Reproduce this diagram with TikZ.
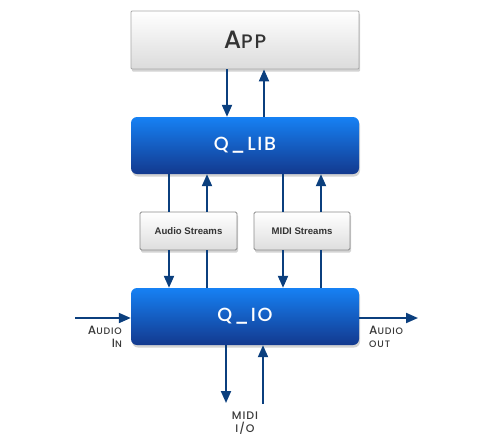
\documentclass[tikz,border=0pt]{standalone}
\usepackage{fontspec}
\setmainfont{Poppins Medium}
\newfontfamily\spfont[LetterSpace=9]{Poppins Medium}
\newfontfamily\hvfont{Liberation Sans}
\usetikzlibrary{shadows,arrows.meta}
\definecolor{navy}{HTML}{0B3F7E}
\definecolor{qtop}{HTML}{1681F4}
\definecolor{qbot}{HTML}{13398E}
\definecolor{gbord}{HTML}{A8A8A8}
\definecolor{sbord}{HTML}{8A8A8A}
\definecolor{dtext}{HTML}{333333}
\definecolor{ltext}{HTML}{3A3A3A}
\newcommand{\smc}[1]{{\fontsize{9.4}{9}\selectfont #1}}
\begin{document}
\begin{tikzpicture}[x=1pt,y=-1pt,
  shd/.style={drop shadow={opacity=0.35,shadow xshift=1pt,shadow yshift=-2.5pt}},
  appbox/.style={draw=gbord,line width=0.8pt,top color=white,bottom color=black!14,
    minimum width=228pt,minimum height=58pt,rounded corners=1pt,shd,
    text=dtext,font=\spfont\fontsize{25}{28}\selectfont},
  qbox/.style={draw=none,top color=qtop,bottom color=qbot,rounded corners=6pt,
    minimum width=228pt,minimum height=57pt,shd,text=white,
    font=\spfont\fontsize{19}{22}\selectfont},
  sbox/.style={draw=sbord,line width=0.8pt,top color=white,bottom color=black!13,
    rounded corners=1.5pt,minimum height=38pt,shd,
    font=\hvfont\bfseries\fontsize{9.6}{11}\selectfont,text=black!80},
  arr/.style={draw=navy,line width=2pt,-{Triangle[length=12pt,width=10pt]}},
  ln/.style={draw=navy,line width=2pt},
  lbl/.style={text=ltext,font=\spfont\fontsize{12}{13}\selectfont}
]
\useasboundingbox (0,0) rectangle (500,440);

\node[appbox] (app) at (245,40) {A{\fontsize{19.5}{20}\selectfont PP}};
\node[qbox] (qlib) at (245,145.5) {Q\_LIB};
\node[qbox] (qio) at (245,316.5) {Q\_IO};
\node[sbox,minimum width=97pt] (as) at (188.5,231) {Audio Streams};
\node[sbox,minimum width=96pt] (ms) at (302,231) {MIDI Streams};

% App <-> Q_LIB
\draw[arr] ([xshift=-18pt]app.south) -- ([xshift=-18pt]qlib.north);
\draw[arr] ([xshift=19pt]qlib.north) -- ([xshift=19pt]app.south);

% Q_LIB <-> streams
\draw[ln] ([xshift=-76pt]qlib.south) -- ([xshift=-76pt]qlib.south |- as.north);
\draw[arr] ([xshift=-38pt]qlib.south |- as.north) -- ([xshift=-38pt]qlib.south);
\draw[ln] ([xshift=38pt]qlib.south) -- ([xshift=38pt]qlib.south |- ms.north);
\draw[arr] ([xshift=76pt]qlib.south |- ms.north) -- ([xshift=76pt]qlib.south);

% streams <-> Q_IO
\draw[arr] ([xshift=-76pt]qio.north |- as.south) -- ([xshift=-76pt]qio.north);
\draw[ln] ([xshift=-38pt]qio.north) -- ([xshift=-38pt]qio.north |- as.south);
\draw[arr] ([xshift=38pt]qio.north |- ms.south) -- ([xshift=38pt]qio.north);
\draw[ln] ([xshift=76pt]qio.north) -- ([xshift=76pt]qio.north |- ms.south);

% Audio in/out
\coordinate (ain) at (75,318);
\coordinate (aout) at (418,318);
\draw[arr] (ain) -- (ain -| qio.west);
\draw[arr] (aout -| qio.east) -- (aout);
\node[lbl,anchor=north east,align=right,inner sep=0pt] (ainl) at (122,326) {A\smc{UDIO}\\I\smc{N}};
\node[lbl,anchor=north west,align=left,inner sep=0pt] (aoutl) at (369,326) {A\smc{UDIO}\\\smc{OUT}};

% MIDI I/O
\coordinate (mo) at (226,403);
\coordinate (mi) at (263,404);
\draw[arr] (mo |- qio.south) -- (mo);
\draw[arr] (mi) -- (mi |- qio.south);
\node[lbl,align=center,inner sep=0pt,font=\spfont\fontsize{11}{13}\selectfont] (midil) at (245,423) {MIDI\\I/O};
\end{tikzpicture}
\end{document}
